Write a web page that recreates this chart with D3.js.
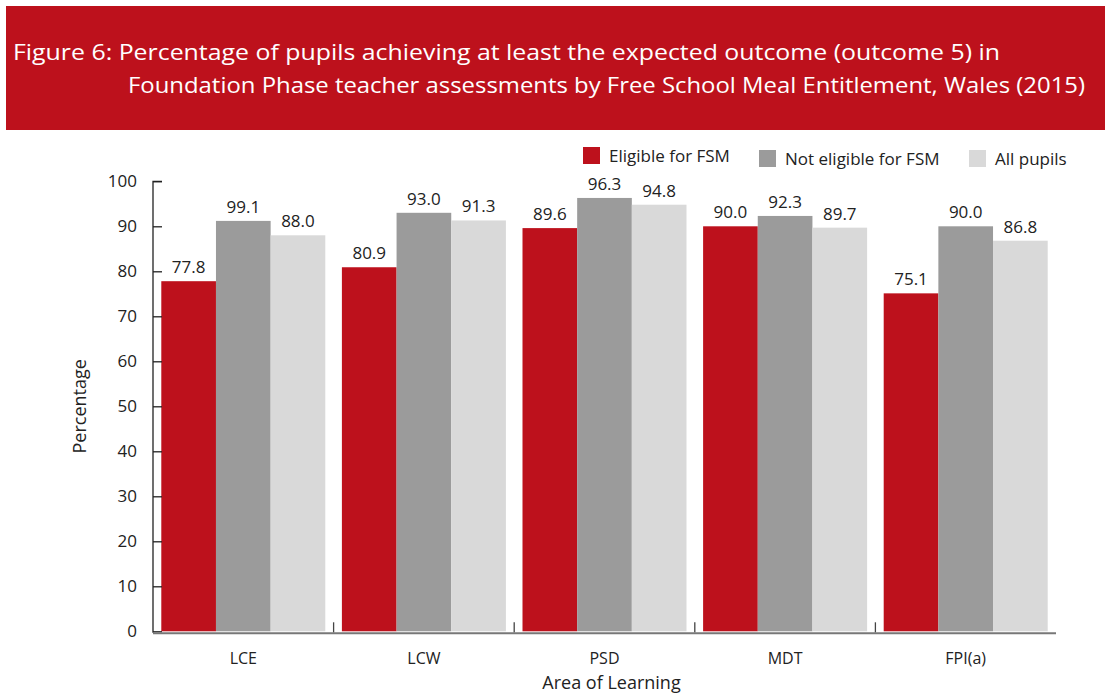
<!DOCTYPE html>
<html><head><meta charset="utf-8">
<script src="https://cdn.jsdelivr.net/npm/d3@7"></script>
<style>
html,body{margin:0;padding:0;background:#fff;}
svg{display:block;font-family:"Open Sans","Noto Sans",sans-serif;}
</style></head>
<body>
<script>
const categories = ["LCE", "LCW", "PSD", "MDT", "FPI(a)"];
const seriesNames = ["Eligible for FSM", "Not eligible for FSM", "All pupils"];
const eligibleFSM = [77.8, 80.9, 89.6, 90.0, 75.1];
const notEligibleFSM = [91.2, 93.0, 96.3, 92.3, 90.0];
const allPupils = [88.0, 91.3, 94.8, 89.7, 86.8];
// printed value labels (the reference prints 99.1 above the LCE bar drawn at ~91)
const eligibleLabels = ["77.8", "80.9", "89.6", "90.0", "75.1"];
const notEligibleLabels = ["99.1", "93.0", "96.3", "92.3", "90.0"];
const allPupilsLabels = ["88.0", "91.3", "94.8", "89.7", "86.8"];
const yTicks = [0, 10, 20, 30, 40, 50, 60, 70, 80, 90, 100];
const titleLines = ["Figure 6: Percentage of pupils achieving at least the expected outcome (outcome 5) in",
                    "Foundation Phase teacher assessments by Free School Meal Entitlement, Wales (2015)"];
const colors = ["#bd111c", "#9b9b9b", "#d9d9d9"];

const series = [eligibleFSM, notEligibleFSM, allPupils];
const seriesLabels = [eligibleLabels, notEligibleLabels, allPupilsLabels];

const W = 1105, H = 695;
const svg = d3.select("body").append("svg").attr("width", W).attr("height", H);

// banner
svg.append("rect").attr("x", 6).attr("y", 6).attr("width", W - 6).attr("height", 124).attr("fill", "#bd111c");
svg.append("text").attr("x", 13).attr("y", 60).attr("fill", "#fff").attr("font-size", 22)
  .attr("textLength", 987).attr("lengthAdjust", "spacingAndGlyphs").text(titleLines[0]);
svg.append("text").attr("x", 128).attr("y", 93).attr("fill", "#fff").attr("font-size", 22)
  .attr("textLength", 957).attr("lengthAdjust", "spacingAndGlyphs").text(titleLines[1]);

const x0 = 153, x1 = 1056, yTop = 181.3, yBot = 631.3;
const x = d3.scaleBand().domain(categories).range([x0, x1]).paddingInner(0).paddingOuter(0);
const groupPad = 8.3;
const xs = d3.scaleBand().domain(d3.range(3)).range([groupPad, x.bandwidth() - groupPad]);
const y = d3.scaleLinear().domain([0, 100]).range([yBot, yTop]);

// bars
const g = svg.append("g");
series.forEach((vals, si) => {
  g.selectAll(null).data(vals).enter().append("rect")
    .attr("x", (d, i) => x(categories[i]) + xs(si))
    .attr("width", xs.bandwidth())
    .attr("y", d => y(d))
    .attr("height", d => y(0) - y(d))
    .attr("fill", colors[si]);
  g.selectAll(null).data(vals).enter().append("text")
    .attr("x", (d, i) => x(categories[i]) + xs(si) + xs.bandwidth() / 2)
    .attr("y", d => y(d) - 8)
    .attr("text-anchor", "middle").attr("font-size", 17).attr("fill", "#222")
    .text((d, i) => seriesLabels[si][i]);
});

// y axis
const yAxis = d3.axisRight(y).tickValues(yTicks).tickSize(9).tickFormat("");
const ya = svg.append("g").attr("transform", `translate(${x0},0)`).call(yAxis);
ya.select(".domain").attr("stroke", "#222").attr("stroke-width", 1.3).attr("d", `M9,${yTop}H0V${yBot + 1.5}`);
ya.selectAll(".tick line").attr("stroke", "#222").attr("stroke-width", 1.3);
svg.append("g").selectAll(null).data(yTicks).enter().append("text")
  .attr("x", 137).attr("y", d => y(d)).attr("dy", "0.36em")
  .attr("text-anchor", "end").attr("font-size", 17).attr("fill", "#222").text(d => d);

// x axis
svg.append("line").attr("x1", x0).attr("x2", x1).attr("y1", yBot + 2).attr("y2", yBot + 2)
  .attr("stroke", "#777").attr("stroke-width", 2);
svg.append("g").selectAll(null).data(categories.slice(1)).enter().append("line")
  .attr("x1", d => x(d)).attr("x2", d => x(d)).attr("y1", yBot + 1).attr("y2", yBot - 9)
  .attr("stroke", "#444").attr("stroke-width", 1.3);
svg.append("g").selectAll(null).data(categories).enter().append("text")
  .attr("x", d => x(d) + x.bandwidth() / 2).attr("y", 664)
  .attr("text-anchor", "middle").attr("font-size", 16).attr("fill", "#222").text(d => d);

svg.append("text").attr("x", (x0 + x1) / 2 + 7).attr("y", 689).attr("text-anchor", "middle")
  .attr("font-size", 18).attr("fill", "#222").text("Area of Learning");
svg.append("text").attr("transform", `translate(86,${(yTop + yBot) / 2}) rotate(-90)`)
  .attr("text-anchor", "middle").attr("font-size", 18).attr("fill", "#222").text("Percentage");

// legend
const legX = [583, 759, 969];
const legY = [147, 150, 150];
seriesNames.forEach((n, i) => {
  svg.append("rect").attr("x", legX[i]).attr("y", legY[i]).attr("width", 17).attr("height", 17).attr("fill", colors[i]);
  svg.append("text").attr("x", legX[i] + 26).attr("y", legY[i] + 8.5).attr("dy", "0.36em")
    .attr("font-size", 17).attr("fill", "#222").text(n);
});
</script>
</body></html>
